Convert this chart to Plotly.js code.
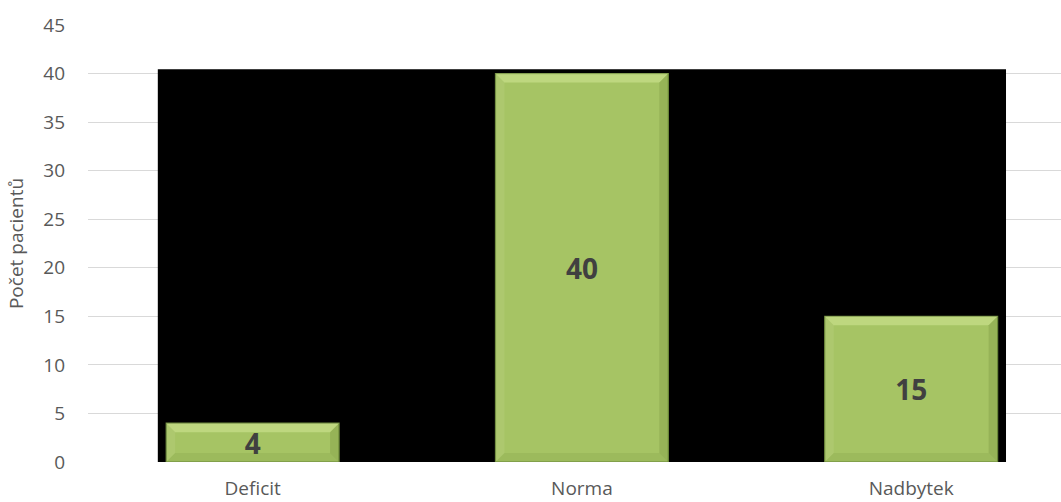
<!DOCTYPE html>
<html>
<head>
<meta charset="utf-8">
<script src="https://cdn.plot.ly/plotly-3.0.1.min.js"></script>
<style>
  html, body { margin: 0; padding: 0; background: #ffffff; }
  #chart { width: 1061px; height: 502px; }
</style>
</head>
<body>
<div id="chart"></div>
<script>
// Patient counts by category
const categories = ['Deficit', 'Norma', 'Nadbytek'];
const patients = [4, 40, 15];
const yTicks = [0, 5, 10, 15, 20, 25, 30, 35, 40, 45];

const font = '"Open Sans", "Liberation Sans", sans-serif';
const positions = categories.map((_, i) => i);

const W = 1061, H = 502;
const margin = { l: 88, r: 0, t: 25, b: 40 };
const xRange = [-0.5, 2.455];
const yRange = [0, 45];
const barWidth = 0.525;

// Bevel size in pixels, converted to axis units
const bevelPx = 9;
const dx = bevelPx * (xRange[1] - xRange[0]) / (W - margin.l - margin.r);
const dy = bevelPx * (yRange[1] - yRange[0]) / (H - margin.t - margin.b);

function bevelShapes(xc, v) {
  const x0 = xc - barWidth / 2, x1 = xc + barWidth / 2;
  const poly = (pts, fill) => ({
    type: 'path', xref: 'x', yref: 'y', layer: 'above',
    path: 'M' + pts.map(p => p[0] + ',' + p[1]).join('L') + 'Z',
    fillcolor: fill, line: { width: 0 }
  });
  return [
    // top highlight
    poly([[x0, v], [x1, v], [x1 - dx, v - dy], [x0 + dx, v - dy]], 'rgba(236,252,178,0.35)'),
    // left side
    poly([[x0, v], [x0 + dx, v - dy], [x0 + dx, dy], [x0, 0]], 'rgba(255,255,230,0.08)'),
    // right side
    poly([[x1, v], [x1 - dx, v - dy], [x1 - dx, dy], [x1, 0]], 'rgba(70,95,25,0.16)'),
    // bottom shade
    poly([[x0, 0], [x1, 0], [x1 - dx, dy], [x0 + dx, dy]], 'rgba(70,95,25,0.1)')
  ];
}

const trace = {
  type: 'bar',
  x: positions,
  y: patients,
  width: barWidth,
  text: patients.map(String),
  textposition: 'inside',
  insidetextanchor: 'middle',
  textangle: 0,
  constraintext: 'none',
  textfont: { family: font, size: 28, color: '#404040', weight: 'bold' },
  marker: { color: '#a6c464', line: { color: '#6f8c3c', width: 1.2 } },
  hoverinfo: 'y'
};

const shapes = [
  {
    type: 'rect', xref: 'x', yref: 'y', layer: 'between',
    x0: -0.288, x1: 2.288, y0: 0, y1: 40.45,
    fillcolor: '#000000', line: { width: 0 }
  }
];
positions.forEach((xc, i) => shapes.push(...bevelShapes(xc, patients[i])));

const layout = {
  width: W,
  height: H,
  margin: margin,
  paper_bgcolor: '#ffffff',
  plot_bgcolor: '#ffffff',
  showlegend: false,
  bargap: 0,
  xaxis: {
    range: xRange,
    tickvals: positions,
    ticktext: categories,
    showgrid: false,
    zeroline: false,
    showline: false,
    ticks: '',
    ticklabelstandoff: 13,
    tickfont: { family: font, size: 19, color: '#595959' }
  },
  yaxis: {
    range: yRange,
    tickvals: yTicks,
    showgrid: true,
    gridcolor: '#d9d9d9',
    gridwidth: 1,
    zeroline: false,
    showline: false,
    ticks: '',
    ticklabelstandoff: 22,
    tickfont: { family: font, size: 19, color: '#595959' },
    title: { text: 'Počet pacientů', font: { family: font, size: 19, color: '#595959' }, standoff: 14 }
  },
  shapes: shapes
};

Plotly.newPlot('chart', [trace], layout, { displayModeBar: false, staticPlot: true });
</script>
</body>
</html>
